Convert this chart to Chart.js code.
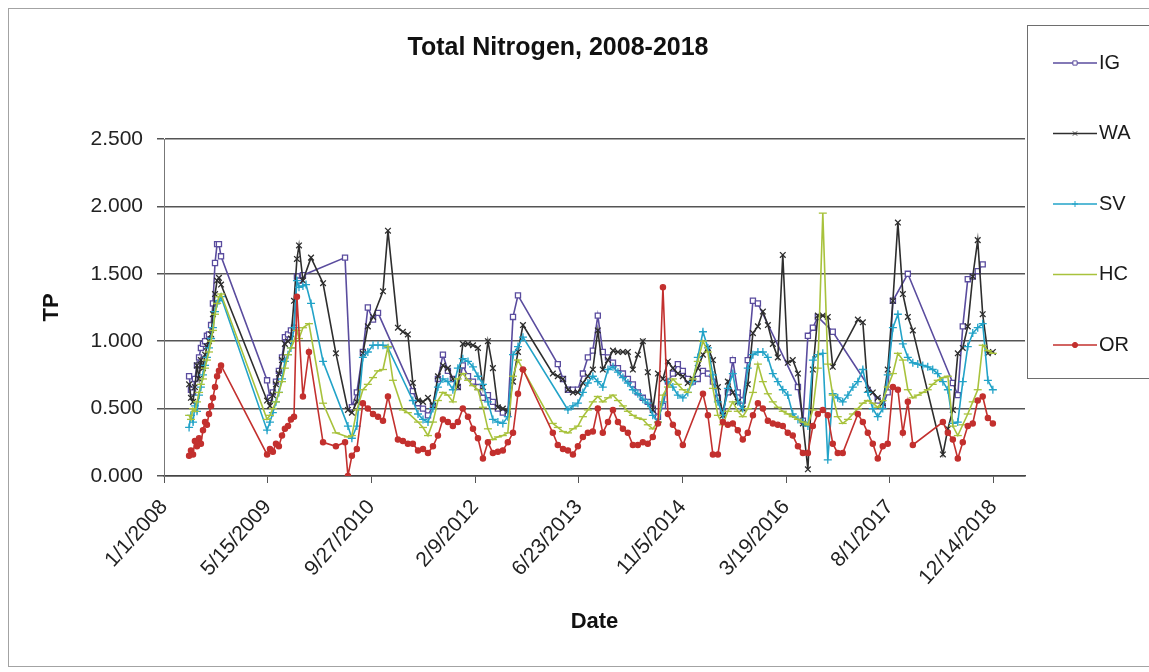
<!DOCTYPE html>
<html>
<head>
<meta charset="utf-8">
<title>Total Nitrogen, 2008-2018</title>
<script src="https://cdn.jsdelivr.net/npm/chart.js@4.4.1/dist/chart.umd.min.js"></script>
<style>
  html, body { margin: 0; padding: 0; background: #ffffff; }
  #wrap { position: relative; width: 1149px; height: 672px; overflow: hidden; }
  #frame { position: absolute; left: 8px; top: 8px; width: 1300px; height: 659px;
           border: 1px solid #a3a3a3; box-sizing: border-box; }
  #chart { position: absolute; left: 0; top: 0; }
</style>
</head>
<body>
<div id="wrap">
  <div id="frame"></div>
  <canvas id="chart" width="1149" height="672"></canvas>
</div>
<script>
// Sample dates as Excel serial day numbers (39448 = 1/1/2008).
const sampleDates = [
  // 2008
  39569, 39578, 39588, 39597, 39607, 39617, 39626, 39636, 39646, 39655, 39665, 39675, 39684, 39694, 39704, 39713, 39723,
  // 2009
  39945, 39959, 39973, 39988, 40002, 40017, 40031, 40046, 40060, 40075, 40089, 40099, 40118, 40133, 40147, 40157,
  // winter 2009-2010
  40215, 40277, 40321, 40335,
  // 2010
  40354, 40378, 40407, 40431, 40456, 40480, 40504, 40528, 40552, 40576, 40600, 40624, 40648, 40673,
  // 2011-2012
  40697, 40721, 40745, 40769, 40793, 40817, 40841, 40865, 40889, 40914, 40938, 40962, 40986, 41010, 41034, 41058, 41082, 41106, 41131, 41155, 41179,
  // 2013-2018
  41323, 41347, 41372, 41396, 41420, 41444, 41468, 41492, 41516, 41540,
  41564, 41589, 41613, 41637, 41661, 41685, 41709, 41733, 41757, 41781,
  41805, 41830, 41854, 41878, 41902, 41926, 41950, 41974, 41998, 42022,
  42047, 42071, 42095, 42119, 42143, 42167, 42191, 42215, 42239, 42263,
  42288, 42312, 42336, 42360, 42384, 42408, 42432, 42456, 42480, 42505,
  42529, 42553, 42577, 42601, 42625, 42649, 42673, 42697, 42721, 42746,
  42770, 42794, 42818, 42842, 42866, 42890, 42914, 42938, 42963, 42987,
  43011, 43035, 43059, 43083, 43107, 43131, 43155, 43179, 43204, 43228,
  43252, 43276, 43300, 43324, 43348, 43372, 43396, 43421, 43445
];

// Total nitrogen by site (null = not sampled on that date)
const igValues = [
  0.74, 0.64, 0.62, 0.72, 0.82, 0.88, 0.95, 0.98, 1.00, 1.04, 1.05, 1.12, 1.28, 1.58, 1.72, 1.72, 1.63,
  0.71, 0.58, 0.62, 0.70, 0.78, 0.88, 1.03, 1.05, 1.08, 1.10, 1.48, 1.45, 1.49, null, null, null,
  null, null, 1.62, null,
  0.51, 0.62, 0.92, 1.25, 1.16, 1.21, null, null, null, null, null, null, 0.63, 0.54,
  0.50, 0.45, 0.52, 0.72, 0.90, 0.78, 0.72, 0.66, 0.82, 0.74, 0.70, 0.66, 0.58, 0.60, 0.55, 0.50, 0.47, 0.46, 1.18, 1.34, null,
  null, 0.83, 0.72, 0.64, 0.64, 0.64, 0.76, 0.88, 0.93, 1.19,
  0.92, 0.88, 0.84, 0.80, 0.76, 0.72, 0.68, 0.62, 0.58, 0.55,
  0.50, 0.44, 0.52, 0.70, 0.76, 0.83, 0.78, 0.72, 0.70, 0.72,
  0.78, 0.76, 0.70, 0.58, 0.48, 0.62, 0.86, 0.62, 0.56, 0.86,
  1.30, 1.28, null, null, null, null, null, null, null, 0.66,
  0.41, 1.04, 1.10, 1.18, null, null, 1.07, null, null, null,
  null, null, null, null, null, 0.56, 0.52, 0.62, 1.30, null,
  null, 1.50, null, null, null, null, null, null, null, null,
  0.69, 0.60, 1.11, 1.46, 1.48, 1.52, 1.57, null, null
];
const waValues = [
  0.68, 0.58, 0.55, 0.66, 0.82, 0.72, 0.86, 0.80, 0.90, 0.96, 1.00, 1.05, 1.20, 1.35, 1.45, 1.47, 1.42,
  0.56, 0.52, 0.60, 0.68, 0.76, 0.86, 0.98, 1.00, 1.02, 1.30, 1.61, 1.71, 1.45, null, null, 1.62,
  1.43, 0.91, null, 0.49,
  0.47, 0.55, 0.91, 1.11, 1.18, null, 1.37, 1.82, null, 1.10, 1.07, 1.05, 0.69, 0.56,
  0.55, 0.58, 0.52, 0.74, 0.82, 0.80, 0.72, 0.66, 0.98, 0.98, 0.97, 0.95, 0.66, 1.00, 0.80, 0.51, 0.50, 0.48, 0.70, 0.92, 1.12,
  0.76, 0.74, 0.72, 0.64, 0.62, 0.62, 0.69, 0.74, 0.79, 1.08,
  0.79, 0.86, 0.93, 0.92, 0.92, 0.92, 0.79, 0.90, 1.00, 0.77,
  0.49, 0.76, 0.72, 0.85, 0.80, 0.76, 0.74, 0.69, 0.72, 0.80,
  0.90, 0.95, 0.86, 0.66, 0.45, 0.70, 0.62, 0.55, 0.50, 0.68,
  1.06, 1.11, 1.22, 1.12, 0.98, 0.88, 1.64, 0.84, 0.86, 0.76,
  0.39, 0.05, 0.79, 1.19, 1.19, 1.18, 0.81, null, null, null,
  null, 1.16, 1.14, 0.64, 0.62, 0.58, 0.54, 0.79, 1.30, 1.88,
  1.35, 1.18, 1.08, null, null, null, null, null, 0.16, 0.35,
  0.49, 0.91, 0.95, 1.11, 1.48, 1.75, 1.20, 0.91, 0.92
];
const svValues = [
  0.36, 0.45, 0.40, 0.52, 0.48, 0.60, 0.66, 0.75, 0.82, 0.88, 0.95, 1.02, 1.10, 1.22, 1.28, 1.30, 1.33,
  0.34, 0.40, 0.47, 0.55, 0.62, 0.72, 0.85, 0.90, 0.95, 1.10, 1.45, 1.40, 1.41, 1.42, null, 1.28,
  0.85, null, null, 0.37,
  0.28, 0.37, 0.88, 0.92, 0.97, 0.97, 0.97, 0.95, null, null, null, null, 0.56, 0.46,
  0.42, 0.40, 0.50, 0.66, 0.72, 0.70, 0.64, 0.80, 0.87, 0.85, 0.81, 0.74, 0.68, 0.55, 0.42, 0.40, 0.39, 0.44, 0.90, 0.96, 1.03,
  null, null, null, 0.49, 0.52, 0.54, 0.62, 0.69, 0.74, 0.70,
  0.66, 0.79, 0.81, 0.77, 0.73, 0.69, 0.64, 0.61, 0.57, 0.54,
  0.45, 0.40, 0.55, 0.70, 0.66, 0.60, 0.58, 0.62, 0.70, 0.88,
  1.07, 0.95, 0.75, 0.55, 0.45, 0.65, 0.76, 0.55, 0.50, 0.80,
  0.90, 0.92, 0.92, 0.88, 0.76, 0.70, 0.64, 0.60, 0.46, 0.42,
  0.40, 0.37, 0.86, 0.90, 0.91, 0.12, 0.61, 0.58, 0.55, 0.60,
  0.66, 0.70, 0.79, 0.62, 0.50, 0.44, 0.50, 0.75, 1.10, 1.20,
  0.98, 0.88, 0.84, 0.83, 0.82, 0.81, 0.79, 0.76, 0.70, 0.64,
  0.39, 0.40, 0.70, 0.96, 1.06, 1.10, 1.13, 0.71, 0.64
];
const hcValues = [
  0.45, 0.42, 0.50, 0.48, 0.55, 0.62, 0.68, 0.72, 0.80, 0.86, 0.92, 1.00, 1.08, 1.20, 1.28, 1.33, 1.35,
  0.42, 0.45, 0.50, 0.55, 0.62, 0.70, 0.80, 0.90, 0.95, 1.00, 1.08, 1.02, 1.10, null, 1.13, null,
  0.54, 0.32, null, 0.29,
  0.30, 0.49, 0.64, 0.68, 0.73, 0.78, 0.79, 0.96, 0.71, null, 0.49, 0.47, null, 0.40,
  0.36, 0.30, 0.40, 0.56, 0.62, 0.60, 0.55, 0.72, 0.76, 0.71, 0.67, 0.64, 0.51, 0.35, 0.27, 0.29, 0.30, 0.32, 0.74, 0.86, 0.79,
  0.39, 0.36, 0.33, 0.32, 0.35, 0.37, 0.44, 0.49, 0.55, 0.59,
  0.55, 0.58, 0.60, 0.56, 0.52, 0.48, 0.45, 0.43, 0.42, 0.38,
  0.35, 0.40, 0.60, 0.66, 0.72, 0.68, 0.64, 0.62, 0.72, 0.85,
  1.00, 0.92, 0.65, 0.45, 0.38, 0.48, 0.55, 0.48, 0.44, 0.50,
  0.62, 0.83, 0.70, 0.61, 0.55, 0.51, 0.48, 0.46, 0.44, 0.42,
  0.40, 0.38, 0.49, 0.80, 1.95, 0.83, 0.60, 0.44, 0.39, 0.42,
  0.46, 0.50, 0.54, 0.56, 0.54, 0.51, 0.56, 0.66, 0.76, 0.91,
  0.86, 0.64, 0.58, 0.60, 0.62, 0.64, 0.68, 0.71, 0.73, 0.74,
  0.37, 0.30, 0.38, 0.46, 0.55, 0.64, 0.97, 0.93, 0.91
];
const orValues = [
  0.15, 0.19, 0.16, 0.26, 0.22, 0.28, 0.24, 0.34, 0.40, 0.38, 0.46, 0.52, 0.58, 0.66, 0.74, 0.78, 0.82,
  0.16, 0.20, 0.18, 0.24, 0.22, 0.30, 0.35, 0.37, 0.42, 0.44, 1.33, null, 0.59, null, 0.92, null,
  0.25, 0.22, 0.25, 0.00,
  0.15, 0.20, 0.54, 0.50, 0.46, 0.44, 0.41, 0.59, null, 0.27, 0.26, 0.24, 0.24, 0.19,
  0.20, 0.17, 0.22, 0.30, 0.42, 0.40, 0.37, 0.40, 0.50, 0.44, 0.35, 0.28, 0.13, 0.25, 0.17, 0.18, 0.19, 0.25, 0.32, 0.61, 0.79,
  0.32, 0.23, 0.20, 0.19, 0.16, 0.22, 0.29, 0.32, 0.33, 0.50,
  0.32, 0.40, 0.49, 0.40, 0.35, 0.32, 0.23, 0.23, 0.25, 0.24,
  0.29, 0.39, 1.40, 0.46, 0.38, 0.32, 0.23, null, null, null,
  0.61, 0.45, 0.16, 0.16, 0.40, 0.38, 0.39, 0.34, 0.27, 0.32,
  0.45, 0.54, 0.50, 0.41, 0.39, 0.38, 0.37, 0.32, 0.30, 0.22,
  0.17, 0.17, 0.37, 0.46, 0.49, 0.45, 0.24, 0.17, 0.17, null,
  null, 0.46, 0.40, 0.32, 0.24, 0.13, 0.22, 0.24, 0.66, 0.64,
  0.32, 0.55, 0.23, null, null, null, null, null, 0.40, 0.32,
  0.27, 0.13, 0.25, 0.37, 0.39, 0.56, 0.59, 0.43, 0.39
];

// Date axis: every 500 days from 1/1/2008
const xTickSerials = [39448, 39948, 40448, 40948, 41448, 41948, 42448, 42948, 43448];
const yTickValues = [0, 0.5, 1.0, 1.5, 2.0, 2.5];

const FONT = "'Liberation Sans', Arial, Helvetica, sans-serif";
const EXCEL_EPOCH = Date.UTC(1899, 11, 30);
function serialToLabel(serial) {
  const d = new Date(EXCEL_EPOCH + serial * 86400000);
  return (d.getUTCMonth() + 1) + '/' + d.getUTCDate() + '/' + d.getUTCFullYear();
}
function toPoints(values) {
  return sampleDates.map((x, i) => ({ x: x, y: values[i] }));
}

const seriesStyles = [
  { label: 'IG', values: igValues, color: '#5a4c9e', pointStyle: 'rect',     radius: 3.6, fill: '#ffffff' },
  { label: 'WA', values: waValues, color: '#2e2e2e', pointStyle: 'crossRot', radius: 4,   fill: '#2e2e2e' },
  { label: 'SV', values: svValues, color: '#22a3c8', pointStyle: 'cross',    radius: 4,   fill: '#22a3c8' },
  { label: 'HC', values: hcValues, color: '#a8c23c', pointStyle: 'line',     radius: 4,   fill: '#a8c23c' },
  { label: 'OR', values: orValues, color: '#c3302e', pointStyle: 'circle',   radius: 2.6, fill: '#c3302e' }
];

const datasets = seriesStyles.map((s, i) => ({
  label: s.label,
  data: toPoints(s.values),
  borderColor: s.color,
  backgroundColor: s.fill,
  borderWidth: 1.6,
  pointStyle: s.pointStyle,
  pointRadius: s.radius,
  pointBorderWidth: 1.3,
  pointBorderColor: s.color,
  pointBackgroundColor: s.fill,
  tension: 0,
  spanGaps: true,
  order: seriesStyles.length - i
}));

// Chart heading drawn above the plot
const headingPlugin = {
  id: 'heading',
  afterDraw(chart, args, opts) {
    const ctx = chart.ctx;
    ctx.save();
    ctx.font = 'bold 25px ' + FONT;
    ctx.fillStyle = '#111111';
    ctx.textAlign = 'center';
    ctx.textBaseline = 'middle';
    ctx.fillText(opts.text, opts.x, opts.y);
    ctx.restore();
  }
};

// Boxed series key on the right-hand side
const seriesKeyPlugin = {
  id: 'seriesKey',
  afterDraw(chart, args, opts) {
    const ctx = chart.ctx;
    ctx.save();
    ctx.strokeStyle = '#6e6e6e';
    ctx.lineWidth = 1;
    ctx.strokeRect(opts.left + 0.5, opts.top + 0.5, opts.width, opts.height);
    chart.data.datasets.forEach((ds, i) => {
      const y = opts.firstY + i * opts.spacing;
      ctx.strokeStyle = ds.borderColor;
      ctx.lineWidth = 1.5;
      ctx.beginPath();
      ctx.moveTo(opts.lineX0, y);
      ctx.lineTo(opts.lineX1, y);
      ctx.stroke();
      ctx.fillStyle = ds.pointBackgroundColor;
      ctx.strokeStyle = ds.pointBorderColor;
      ctx.lineWidth = 1;
      Chart.helpers.drawPoint(ctx, {
        pointStyle: ds.pointStyle, radius: Math.min(ds.pointRadius, 3), borderWidth: 1, rotation: 0
      }, (opts.lineX0 + opts.lineX1) / 2, y);
      ctx.fillStyle = '#1a1a1a';
      ctx.font = '20px ' + FONT;
      ctx.textAlign = 'left';
      ctx.textBaseline = 'middle';
      ctx.fillText(ds.label, opts.lineX1 + 2, y);
    });
    ctx.restore();
  }
};

new Chart(document.getElementById('chart'), {
  type: 'line',
  data: { datasets: datasets },
  plugins: [headingPlugin, seriesKeyPlugin],
  options: {
    responsive: false,
    animation: false,
    devicePixelRatio: 1,
    layout: { padding: { top: 139, right: 124, bottom: 37, left: 0 } },
    plugins: {
      legend: { display: false },
      tooltip: { enabled: false },
      title: { display: false },
      heading: { text: 'Total Nitrogen, 2008-2018', x: 558, y: 48 },
      seriesKey: { left: 1027, top: 25, width: 220, height: 353,
                   lineX0: 1053, lineX1: 1097, firstY: 63, spacing: 70.5 }
    },
    scales: {
      x: {
        type: 'linear',
        min: 39448,
        max: 43600,
        afterBuildTicks(scale) { scale.ticks = xTickSerials.map(v => ({ value: v })); },
        afterFit(scale) { scale.height = 159; },
        ticks: {
          autoSkip: false,
          minRotation: 48,
          maxRotation: 48,
          padding: 12,
          color: '#222222',
          font: { family: FONT, size: 21 },
          callback: (v) => serialToLabel(v)
        },
        grid: { drawOnChartArea: false, drawTicks: true, tickLength: 7, color: '#555555', lineWidth: 1 },
        border: { display: true, color: '#444444', width: 1.5 },
        title: {
          display: true, text: 'Date', color: '#111111',
          font: { family: FONT, size: 22, weight: 'bold' },
          padding: { top: 0, bottom: 0 }
        }
      },
      y: {
        min: 0,
        max: 2.5,
        afterBuildTicks(scale) { scale.ticks = yTickValues.map(v => ({ value: v })); },
        afterFit(scale) { scale.width = 164; },
        ticks: {
          padding: 14,
          color: '#222222',
          font: { family: FONT, size: 21 },
          callback: (v) => Number(v).toFixed(3)
        },
        grid: { color: '#555555', lineWidth: 1.5, tickLength: 7 },
        border: { display: true, color: '#777777', width: 1 },
        title: {
          display: true, text: 'TP', color: '#111111',
          font: { family: FONT, size: 22, weight: 'bold' },
          padding: { top: 39, bottom: 0 }
        }
      }
    }
  }
});
</script>
</body>
</html>
